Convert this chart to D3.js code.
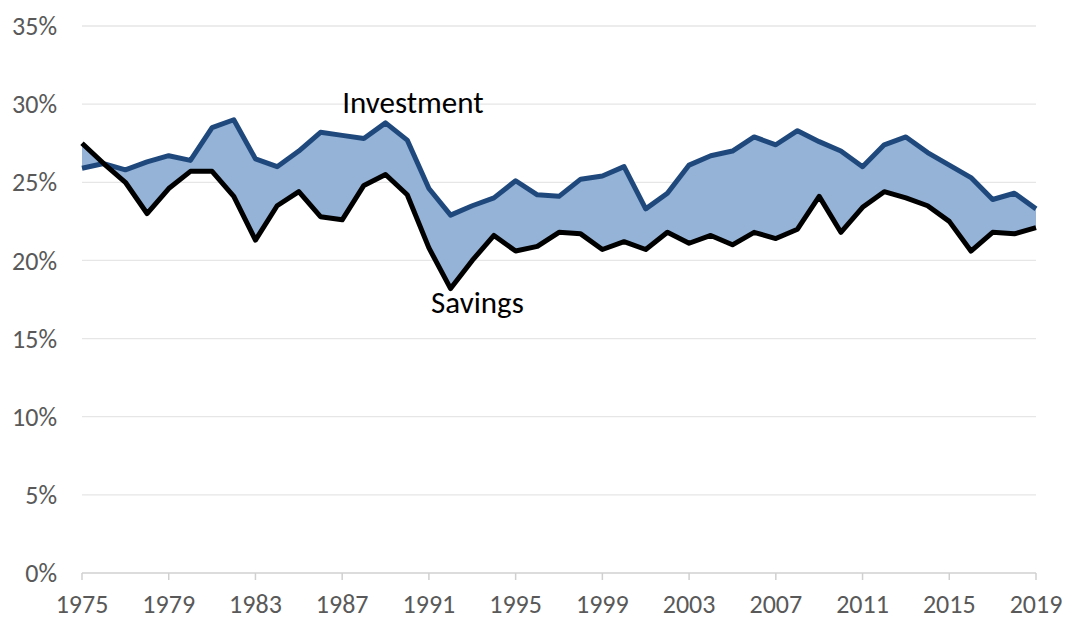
<!DOCTYPE html>
<html>
<head>
<meta charset="utf-8">
<script src="https://d3js.org/d3.v7.min.js"></script>
<style>
  body { margin: 0; background: #fff; }
  text { font-family: Carlito, Lato, "Open Sans", sans-serif; }
</style>
</head>
<body>
<div id="chart"></div>
<script>
var years = d3.range(1975, 2020);
var investment = [25.9, 26.2, 25.8, 26.3, 26.7, 26.4, 28.5, 29.0, 26.5, 26.0,
                  27.0, 28.2, 28.0, 27.8, 28.8, 27.7, 24.6, 22.9, 23.5, 24.0,
                  25.1, 24.2, 24.1, 25.2, 25.4, 26.0, 23.3, 24.3, 26.1, 26.7,
                  27.0, 27.9, 27.4, 28.3, 27.6, 27.0, 26.0, 27.4, 27.9, 26.9,
                  26.1, 25.3, 23.9, 24.3, 23.3];
var savings = [27.5, 26.2, 25.0, 23.0, 24.6, 25.7, 25.7, 24.1, 21.3, 23.5,
               24.4, 22.8, 22.6, 24.8, 25.5, 24.2, 20.8, 18.2, 20.0, 21.6,
               20.6, 20.9, 21.8, 21.7, 20.7, 21.2, 20.7, 21.8, 21.1, 21.6,
               21.0, 21.8, 21.4, 22.0, 24.1, 21.8, 23.4, 24.4, 24.0, 23.5,
               22.5, 20.6, 21.8, 21.7, 22.1];
var yTicks = [0, 5, 10, 15, 20, 25, 30, 35];
var xTicks = d3.range(1975, 2020, 4);

var W = 1065, H = 621;
var margin = {top: 26, right: 29, bottom: 48, left: 82};
var width = W - margin.left - margin.right,
    height = H - margin.top - margin.bottom;

var svg = d3.select("#chart").append("svg")
  .attr("width", W).attr("height", H);
var g = svg.append("g")
  .attr("transform", "translate(" + margin.left + "," + margin.top + ")");

var x = d3.scaleLinear().domain([1975, 2019]).range([0, width]);
var y = d3.scaleLinear().domain([0, 35]).range([height, 0]);

// gridlines + y labels
g.selectAll(".grid").data(yTicks.slice(1)).enter().append("line")
  .attr("x1", 0).attr("x2", width)
  .attr("y1", function(d) { return y(d); })
  .attr("y2", function(d) { return y(d); })
  .style("stroke", "#e6e6e6").style("stroke-width", 1.3);

g.selectAll(".ylab").data(yTicks).enter().append("text")
  .attr("x", -25)
  .attr("y", function(d) { return y(d); })
  .attr("dy", "0.35em")
  .style("text-anchor", "end")
  .style("font-size", "26px")
  .style("fill", "#595959")
  .text(function(d) { return d + "%"; });

var data = years.map(function(yr, i) {
  return {year: yr, inv: investment[i], sav: savings[i]};
});

// shaded gap
var area = d3.area()
  .x(function(d) { return x(d.year); })
  .y0(function(d) { return y(d.sav); })
  .y1(function(d) { return y(d.inv); });
g.append("path").datum(data).attr("d", area).style("fill", "#95b3d7");

// x axis
g.append("line")
  .attr("x1", 0).attr("x2", width)
  .attr("y1", height).attr("y2", height)
  .style("stroke", "#d0d0d0").style("stroke-width", 1.5);
g.selectAll(".xtick").data(xTicks).enter().append("line")
  .attr("x1", function(d) { return x(d); })
  .attr("x2", function(d) { return x(d); })
  .attr("y1", height).attr("y2", height + 7)
  .style("stroke", "#d0d0d0").style("stroke-width", 1.5);
g.selectAll(".xlab").data(xTicks).enter().append("text")
  .attr("x", function(d) { return x(d); })
  .attr("y", height + 40)
  .style("text-anchor", "middle")
  .style("font-size", "26px")
  .style("fill", "#595959")
  .text(function(d) { return d; });

// lines
var lineInv = d3.line()
  .x(function(d) { return x(d.year); })
  .y(function(d) { return y(d.inv); });
var lineSav = d3.line()
  .x(function(d) { return x(d.year); })
  .y(function(d) { return y(d.sav); });

g.append("path").datum(data).attr("d", lineInv)
  .style("fill", "none").style("stroke", "#1f497d")
  .style("stroke-width", 5).style("stroke-linejoin", "round");
g.append("path").datum(data).attr("d", lineSav)
  .style("fill", "none").style("stroke", "#000")
  .style("stroke-width", 5).style("stroke-linejoin", "round");

// labels
g.append("text")
  .attr("x", x(1987.0)).attr("y", y(29.45))
  .style("font-size", "31px").style("fill", "#000")
  .text("Investment");
g.append("text")
  .attr("x", x(1991.1)).attr("y", y(16.65))
  .style("font-size", "31px").style("fill", "#000")
  .text("Savings");
</script>
</body>
</html>
